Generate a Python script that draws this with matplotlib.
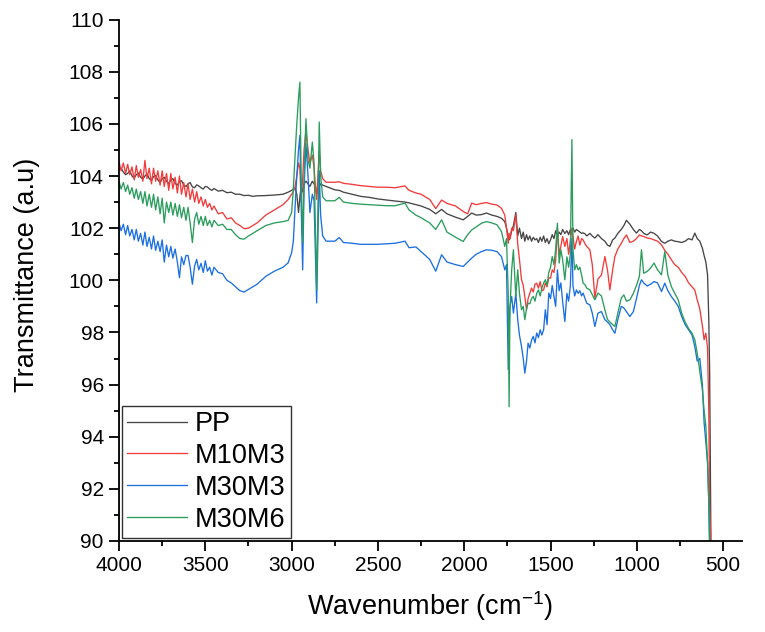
import numpy as np
import matplotlib
matplotlib.use("Agg")
import matplotlib.pyplot as plt
from matplotlib.ticker import MultipleLocator

plt.rcParams['font.family'] = ['Liberation Sans', 'DejaVu Sans']
plt.rcParams['mathtext.fontset'] = 'custom'
plt.rcParams['mathtext.rm'] = 'Liberation Sans'
plt.rcParams['mathtext.default'] = 'regular'

# wavenumber grid shared by all four spectra (cm-1)
wavenumber = [
    4000,
    4000, 3988, 3975, 3962, 3950, 3938, 3925, 3912, 3900, 3888,
    3875, 3862, 3850, 3838, 3825, 3812, 3800, 3788, 3775, 3762,
    3750, 3738, 3725, 3712, 3700, 3688, 3675, 3662, 3650, 3638,
    3625, 3612, 3600, 3588, 3575, 3562, 3550, 3538, 3525, 3512,
    3500, 3488, 3475, 3462, 3450,
    3425, 3400, 3375, 3350, 3325, 3300, 3275, 3250, 3225, 3200,
    3150, 3100, 3050, 3020, 3000, 2990, 2980, 2970, 2960, 2952, 2945, 2936, 2928,
    2917, 2905, 2894, 2880, 2870, 2862, 2855, 2848, 2840, 2832, 2820, 2800,
    2750, 2724, 2700, 2650, 2600, 2550, 2500, 2450, 2400, 2343, 2320, 2280, 2250,
    2200, 2165, 2131, 2100, 2050, 2006, 1980, 1957, 1930, 1900, 1871, 1840, 1810,
    1784, 1765,
    1755, 1745, 1740, 1735, 1725, 1715, 1701, 1690, 1680, 1668,
    1658, 1649, 1639, 1630, 1620, 1610, 1600, 1590, 1580, 1570,
    1560, 1550, 1540, 1530, 1520, 1510, 1500, 1490, 1480, 1470,
    1460, 1450, 1440, 1430, 1417, 1405, 1395, 1385, 1376, 1370,
    1360, 1350, 1340, 1330, 1320, 1311, 1300, 1290,
    1272, 1258, 1243, 1225, 1205, 1185, 1170, 1156, 1140, 1127,
    1110, 1090, 1075, 1060, 1040, 1020, 1002, 985, 973, 960,
    940, 920, 900, 880, 857, 838, 820, 800, 780, 760,
    740, 720, 700, 680, 664, 650, 635, 620, 610, 600,
    590, 583, 578, 570,
]

pp = [
    104.25,
    104.25, 104.3, 104.15, 104.05, 104.1, 104.2, 104.0, 103.92, 104.05, 104.12,
    103.95, 103.88, 104.0, 104.08, 103.9, 103.82, 103.98, 104.02, 103.85, 103.75,
    103.9, 103.95, 103.8, 103.7, 103.85, 103.9, 103.72, 103.65, 103.78, 103.82,
    103.65, 103.6, 103.7, 103.75, 103.58, 103.55, 103.66, 103.62, 103.55, 103.5,
    103.6, 103.58, 103.5, 103.45, 103.52,
    103.42, 103.45, 103.36, 103.38, 103.3, 103.3, 103.25, 103.26, 103.22, 103.24,
    103.25, 103.27, 103.3, 103.38, 103.45, 103.5, 103.55, 103.3, 102.6, 103.2, 103.6, 103.4, 103.7,
    103.8, 103.7, 103.6, 103.8, 103.7, 103.6, 103.3, 103.5, 103.6, 103.7, 103.65, 103.6,
    103.47, 103.45, 103.38, 103.3, 103.22, 103.18, 103.12, 103.08, 103.04, 103.0, 102.97, 102.9, 102.85,
    102.72, 102.55, 102.72, 102.55, 102.42, 102.32, 102.45, 102.58, 102.5, 102.52, 102.58, 102.5, 102.45,
    102.38, 102.25,
    102.0, 101.7, 101.55, 101.6, 101.9, 102.1, 102.6, 101.7, 102.0, 101.6,
    101.85, 101.5, 101.75, 101.55, 101.7, 101.5, 101.65, 101.55, 101.6, 101.45,
    101.65, 101.5, 101.7, 101.45, 101.6, 101.4, 101.55, 101.75, 101.6, 101.9,
    101.7, 101.85, 101.75, 101.95, 101.8, 101.9, 101.75, 101.95, 101.85, 102.0,
    101.85, 101.95, 101.9, 101.85, 101.8, 101.82, 101.78, 101.7,
    101.8, 101.7, 101.62, 101.75, 101.6, 101.5, 101.35, 101.3, 101.55, 101.62,
    101.8, 101.95, 102.1, 102.3, 102.15, 101.95, 101.81, 101.95, 101.9, 101.8,
    101.74, 101.85, 101.8, 101.7, 101.49, 101.42, 101.5, 101.55, 101.5, 101.48,
    101.45, 101.5, 101.6, 101.55, 101.81, 101.6, 101.5, 101.23, 100.95, 100.7,
    100.2, 98.5, 96.5, 89.5,
]

m10m3 = [
    104.55,
    104.55, 104.2, 104.5, 104.1, 104.45, 104.05, 104.35, 103.85, 104.4, 103.95,
    104.25, 103.8, 104.6, 103.9, 104.3, 103.7, 104.3, 103.8, 104.2, 103.65,
    104.2, 103.6, 104.1, 103.45, 104.1, 103.5, 103.95, 103.35, 104.0, 103.3,
    103.75, 103.2, 103.7, 103.1, 103.5, 103.0, 103.4, 102.95, 103.2, 102.85,
    103.1, 102.8, 102.95, 102.7, 102.85,
    102.55, 102.6, 102.35, 102.4, 102.2, 102.1, 101.98, 102.0, 102.1, 102.2,
    102.5, 102.7, 102.9, 103.1, 103.3, 103.4, 103.6, 104.0, 104.5, 104.3, 103.0, 103.9, 105.0,
    105.75, 105.0, 104.5, 104.8, 104.3, 103.6, 103.1, 104.0, 104.98, 104.2, 103.9, 103.76,
    103.76, 103.78, 103.72, 103.68, 103.63, 103.6, 103.57, 103.57, 103.55, 103.62, 103.45, 103.35, 103.3,
    103.1, 102.75, 103.08, 102.95, 102.85, 102.64, 102.55, 102.96, 102.9, 102.95, 102.98, 102.92, 102.89,
    102.76, 102.5,
    102.0, 101.42, 101.8, 101.6, 102.0, 101.9, 102.51, 101.4, 100.8, 100.02,
    99.8, 99.38, 98.87, 99.3, 99.5, 99.7, 99.55, 99.85, 99.89, 99.7,
    99.95, 99.6, 99.63, 99.9, 99.75, 100.1, 100.08, 100.4, 100.3, 100.78,
    102.0, 101.0, 101.3, 101.68, 101.3, 101.6, 101.0, 101.5, 102.0, 101.7,
    101.2, 101.49, 101.7, 101.35, 101.6, 101.55, 101.4, 101.3,
    101.17, 100.6, 99.32, 100.05, 100.2, 100.91, 100.4, 99.63, 100.4, 100.91,
    101.2, 101.42, 101.6, 101.74, 101.45, 101.5, 101.6, 101.74, 101.7, 101.68,
    101.62, 101.6, 101.55, 101.5, 101.36, 101.15, 101.0, 100.79, 100.6, 100.5,
    100.3, 100.15, 99.9, 99.75, 99.63, 99.25, 98.9, 98.25, 97.72, 97.97,
    97.4, 95.0, 91.5, 89.5,
]

m30m3 = [
    102.2,
    102.2, 101.9, 102.15, 101.75, 102.1, 101.7, 101.95, 101.55, 101.95, 101.5,
    101.8, 101.35, 101.85, 101.3, 101.65, 101.2, 101.7, 101.15, 101.5, 101.1,
    101.55, 100.7, 101.35, 100.9, 101.3, 100.85, 101.2, 100.7, 100.1, 100.9,
    100.6, 100.95, 100.95, 100.5, 99.85, 100.55, 100.8, 100.4, 100.65, 100.3,
    100.75, 100.35, 100.5, 100.2, 100.5,
    100.3, 100.25, 100.0, 99.9, 99.75, 99.6, 99.55, 99.65, 99.75, 99.85,
    100.15, 100.35, 100.5, 100.67, 101.06, 101.5, 102.8, 104.0, 105.0, 105.56, 103.0, 100.4, 103.5,
    105.24, 104.0, 102.6, 103.3, 103.05, 101.0, 99.13, 101.5, 104.2, 102.5, 101.7, 101.5,
    101.5, 101.64, 101.45, 101.42, 101.38, 101.38, 101.38, 101.4, 101.42, 101.5, 101.25, 101.28, 101.1,
    100.8, 100.35, 100.98, 100.7, 100.6, 100.53, 100.7, 100.85, 101.0, 101.1, 101.17, 101.15, 101.1,
    100.91, 100.4,
    100.6, 96.57, 98.0, 99.0, 99.38, 98.74, 99.5, 98.49, 97.9, 97.46,
    97.0, 96.44, 96.9, 97.59, 97.4, 97.7, 97.85, 97.6, 97.98, 97.8,
    98.1, 97.9, 98.1, 98.87, 98.3, 99.51, 99.3, 99.8, 99.38, 99.0,
    100.4, 99.6, 99.9, 99.2, 98.42, 99.5, 99.2, 99.8, 101.6, 99.8,
    99.4, 99.63, 99.5, 99.6, 99.4, 99.51, 99.3, 99.12,
    99.06, 98.74, 98.23, 98.74, 98.8, 98.49, 98.4, 98.3, 98.1, 97.97,
    98.49, 99.0, 98.94, 98.8, 98.61, 98.8, 99.3, 99.8, 100.02, 99.9,
    99.78, 99.85, 99.95, 99.9, 99.57, 99.89, 99.6, 99.38, 99.2, 99.0,
    98.61, 98.3, 98.1, 97.9, 97.46, 96.9, 97.0, 96.0, 94.53, 93.8,
    93.0, 91.5, 89.8, 89.5,
]

m30m6 = [
    89.5,
    103.8, 103.5, 103.75, 103.4, 103.65, 103.3, 103.55, 103.15, 103.5, 103.1,
    103.4, 102.95, 103.4, 102.85, 103.3, 102.8, 103.3, 102.7, 103.2, 102.55,
    103.15, 102.2, 103.0, 102.6, 103.0, 102.5, 102.95, 102.45, 102.9, 102.4,
    102.8, 102.3, 102.8, 102.2, 101.45, 102.35, 102.6, 102.15, 102.45, 102.1,
    102.45, 102.1, 102.3, 102.05, 102.3,
    102.1, 102.15, 101.95, 101.95, 101.75, 101.6, 101.58, 101.7, 101.8, 101.9,
    102.1, 102.2, 102.25, 102.3, 102.6, 103.5, 104.8, 106.0, 107.0, 107.6, 104.0, 101.45, 104.0,
    106.2, 104.6, 104.3, 105.3, 104.5, 102.0, 99.64, 102.5, 106.07, 104.0, 103.2, 103.05,
    103.05, 103.18, 103.0, 102.95, 102.92, 102.9, 102.88, 102.86, 102.86, 102.96, 102.7, 102.5, 102.4,
    102.2, 101.95, 102.32, 101.85, 101.65, 101.49, 101.75, 101.93, 102.05, 102.19, 102.25, 102.2, 102.13,
    101.87, 101.3,
    101.6, 99.5, 95.15, 98.87, 100.4, 101.17, 99.38, 100.4, 99.5, 98.87,
    99.0, 98.49, 98.9, 99.12, 99.1, 99.3, 99.38, 99.2, 99.5, 99.63,
    99.4, 99.7, 99.9, 100.02, 99.8, 100.3, 100.5, 100.91, 100.6, 101.2,
    102.19, 100.66, 101.17, 100.8, 100.02, 100.9, 100.5, 101.0, 105.4, 101.2,
    100.4, 100.6, 100.4, 100.5, 100.2, 99.89, 99.83, 99.7,
    99.63, 99.45, 99.25, 99.51, 99.4, 98.87, 98.5, 98.4, 98.3, 98.23,
    98.74, 99.32, 99.44, 99.2, 99.25, 99.5, 99.8, 100.15, 101.17, 100.27,
    100.34, 100.47, 100.66, 100.4, 100.21, 101.1, 100.2, 99.76, 99.5, 99.25,
    98.74, 98.4, 98.15, 97.97, 97.72, 97.2, 96.5, 95.8, 95.0, 94.4,
    93.0, 91.5, 89.8, 89.5,
]

series = [
    ('PP', pp, '#454545'),
    ('M10M3', m10m3, '#f23b3b'),
    ('M30M3', m30m3, '#1b6fe0'),
    ('M30M6', m30m6, '#2a9d5c'),
]

fig = plt.figure(figsize=(7.65, 6.32), dpi=100)
ax = fig.add_axes([0.1556, 0.144, 0.814, 0.825])

for name, vals, color in series:
    assert len(vals) == len(wavenumber), name
    ax.plot(wavenumber, vals, color=color, lw=0.95, label=name)

ax.set_xlim(4000, 392)
ax.set_ylim(90, 110)
ax.xaxis.set_major_locator(MultipleLocator(500))
ax.xaxis.set_minor_locator(MultipleLocator(250))
ax.yaxis.set_major_locator(MultipleLocator(2))
ax.yaxis.set_minor_locator(MultipleLocator(1))

for side in ['top', 'right']:
    ax.spines[side].set_visible(False)
for side in ['left', 'bottom']:
    ax.spines[side].set_linewidth(1.3)

ax.tick_params(which='major', direction='out', length=7, width=1.3, labelsize=15, pad=4)
ax.tick_params(which='minor', direction='out', length=3.5, width=1.3)

ax.set_xlabel('Wavenumber (cm$^{-1}$)', fontsize=19.5, labelpad=10)
ax.set_ylabel('Transmittance (a.u)', fontsize=19.5)
ax.yaxis.set_label_coords(-0.127, 0.51)

leg = ax.legend(loc='lower left', fontsize=19.5, frameon=True, fancybox=False,
                edgecolor='black', borderaxespad=0.1, handlelength=2.2,
                handletextpad=0.3, labelspacing=0.22, borderpad=0.2)
leg.get_frame().set_linewidth(1.0)

fig.savefig('out.png', dpi=100)
